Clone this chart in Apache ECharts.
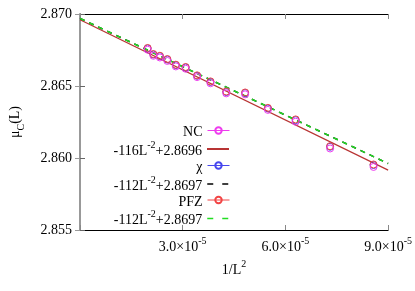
<!DOCTYPE html>
<html><head><meta charset="utf-8">
<script src="https://cdn.jsdelivr.net/npm/echarts@6/dist/echarts.min.js"></script>
<style>html,body{margin:0;padding:0;background:#fff}#c{width:415px;height:291px}</style>
</head><body><div id="c"></div>
<script>
// 1/L^2 for L = 225,216,207,198,189,180,171,162,153,144,135,126,117,108
var xValues = [1.9753e-5, 2.1433e-5, 2.3338e-5, 2.5508e-5, 2.7995e-5, 3.0864e-5, 3.4199e-5, 3.8104e-5, 4.2719e-5, 4.8225e-5, 5.4870e-5, 6.2988e-5, 7.3051e-5, 8.5734e-5];
var ncValues  = [2.86752, 2.86710, 2.86698, 2.86674, 2.86636, 2.86620, 2.86562, 2.86519, 2.86449, 2.86442, 2.86334, 2.86252, 2.86066, 2.85938];
var chiValues = [2.86761, 2.86719, 2.86707, 2.86684, 2.86645, 2.86629, 2.86571, 2.86528, 2.86458, 2.86451, 2.86344, 2.86263, 2.86078, 2.85951];
var pfzValues = [2.86764, 2.86722, 2.86710, 2.86687, 2.86648, 2.86632, 2.86574, 2.86532, 2.86462, 2.86455, 2.86348, 2.86268, 2.86082, 2.85955];
var fitSlopes = [-116, -112, -112];
var fitIntercepts = [2.8696, 2.8697, 2.8697];
var fitLabels = ['-116L{sup|-2}+2.8696', '-112L{sup|-2}+2.8697', '-112L{sup|-2}+2.8697'];
var xTicks = [3.0e-5, 6.0e-5, 9.0e-5];
var yTicks = [2.855, 2.860, 2.865, 2.870];

var FONT = 'Liberation Serif';
var colNC = '#ee3cee', colChi = '#4646ee', colPFZ = '#f24444';
var fitColors = ['#b83434', '#000000', '#22dd22'];
var fitTypes = ['solid', [5, 5], [5, 5]];
var fitWidths = [1.2, 1.5, 1.5];
var xMin = 0, xMax = 9.0e-5;

function pairs(xs, ys) { return xs.map(function (x, i) { return [x, ys[i]]; }); }
function fitLine(k) { return [[xMin, fitIntercepts[k] + fitSlopes[k] * xMin], [xMax, fitIntercepts[k] + fitSlopes[k] * xMax]]; }

var rich = {
  n: { fontFamily: FONT, fontSize: 14, color: '#000', lineHeight: 18, verticalAlign: 'bottom' },
  sup: { fontFamily: FONT, fontSize: 10, color: '#000', lineHeight: 18, verticalAlign: 'top', padding: [0, 0, 0, 0] }
};

var labelMap = { 'NC': 'NC', 'fit1': fitLabels[0], 'chi': 'χ', 'fit2': fitLabels[1], 'PFZ': 'PFZ', 'fit3': fitLabels[2] };
var legendOrder = ['NC', 'fit1', 'chi', 'fit2', 'PFZ', 'fit3'];
var legendY = [134.5, 149, 169.5, 184, 204, 218.5];

var legends = legendOrder.map(function (name, i) {
  var isData = (name === 'NC' || name === 'chi' || name === 'PFZ');
  var item = { name: name };
  if (isData) item.lineStyle = { width: 1, opacity: 1 };
  else {
    item.itemStyle = { color: 'rgba(0,0,0,0)', borderWidth: 0, opacity: 0 };
    if (name !== 'fit1') item.lineStyle = { type: [6, 9], width: 1.5 };
  }
  return {
    data: [item], orient: 'vertical', right: 185, top: legendY[i] - 9,
    align: 'right', itemWidth: 22, itemHeight: isData ? 8 : 10, padding: 0, selectedMode: false,
    formatter: function (n) { var s = labelMap[n]; return s.indexOf('{') >= 0 ? s.replace(/^([^{]*)\{/, '{n|$1}{').replace(/\}([^}]*)$/, '}{n|$1}') : '{n|' + s + '}'; },
    textStyle: { fontFamily: FONT, fontSize: 14, color: '#000', rich: rich }
  };
});

function dataSeries(name, vals, color, z) {
  return {
    name: name, type: 'line', data: pairs(xValues, vals), symbol: 'circle', symbolSize: 7,
    showSymbol: true, lineStyle: { opacity: 0, width: 1, color: color },
    itemStyle: { color: 'rgba(255,255,255,0)', borderColor: color, borderWidth: 1 },
    z: z, animation: false, silent: true
  };
}
function fitSeries(name, k) {
  return {
    name: name, type: 'line', data: fitLine(k), symbol: 'none', showSymbol: false,
    lineStyle: { color: fitColors[k], width: fitWidths[k], type: fitTypes[k] }, itemStyle: { color: fitColors[k] },
    z: 3 + k, animation: false, silent: true
  };
}

var chart = echarts.init(document.getElementById('c'), null, { renderer: 'canvas' });
chart.setOption({
  animation: false,
  backgroundColor: '#fff',
  legend: legends,
  grid: { left: 79, right: 26, top: 14, bottom: 61, containLabel: false },
  xAxis: [{
    type: 'value', min: xMin, max: xMax, interval: 3.0e-5,
    name: '{n|1/L}{sup|2}', nameLocation: 'middle', nameGap: 27,
    nameTextStyle: { fontFamily: FONT, fontSize: 14, color: '#000', rich: rich },
    axisLine: { show: true, lineStyle: { color: '#000', width: 1 } },
    axisTick: { show: true, inside: true, length: 5, lineStyle: { color: '#888' } },
    splitLine: { show: false },
    axisLabel: {
      margin: 6,
      formatter: function (v) { if (Math.abs(v) < 1e-12) return ''; return '{n|' + (v / 1e-5).toFixed(1) + '×10}{sup|-5}'; },
      rich: rich
    }
  }, {
    type: 'value', position: 'top', min: xMin, max: xMax, interval: 3.0e-5,
    axisLine: { show: true, lineStyle: { color: '#000', width: 1 } },
    axisTick: { show: true, inside: true, length: 5, lineStyle: { color: '#888' } },
    axisLabel: { show: false }, splitLine: { show: false }
  }],
  yAxis: [{
    type: 'value', min: 2.855, max: 2.870, interval: 0.005,
    name: '{n|μ}{sub|C}{n|(L)}', nameLocation: 'middle', nameGap: 54, nameRotate: 90,
    nameTextStyle: { fontFamily: FONT, fontSize: 14, color: '#000', rich: {
      n: { fontFamily: FONT, fontSize: 14, color: '#000', lineHeight: 18, verticalAlign: 'top' },
      sub: { fontFamily: FONT, fontSize: 10, color: '#000', lineHeight: 18, verticalAlign: 'bottom' } } },
    axisLine: { show: true, lineStyle: { color: '#000', width: 1 } },
    axisTick: { show: true, inside: true, length: 5, lineStyle: { color: '#666' } },
    splitLine: { show: false },
    axisLabel: { margin: 8, fontFamily: FONT, fontSize: 14, color: '#000', formatter: function (v) { return v.toFixed(3); } }
  }, {
    type: 'value', position: 'right', min: 2.855, max: 2.870, interval: 0.005,
    axisLine: { show: true, lineStyle: { color: '#999', width: 2 } },
    axisTick: { show: true, inside: true, length: 5, lineStyle: { color: '#999' } },
    axisLabel: { show: false }, splitLine: { show: false }
  }],
  series: [
    dataSeries('NC', ncValues, colNC, 8),
    fitSeries('fit1', 0),
    dataSeries('chi', chiValues, colChi, 6),
    fitSeries('fit2', 1),
    dataSeries('PFZ', pfzValues, colPFZ, 7),
    fitSeries('fit3', 2)
  ]
});
</script>
</body></html>
